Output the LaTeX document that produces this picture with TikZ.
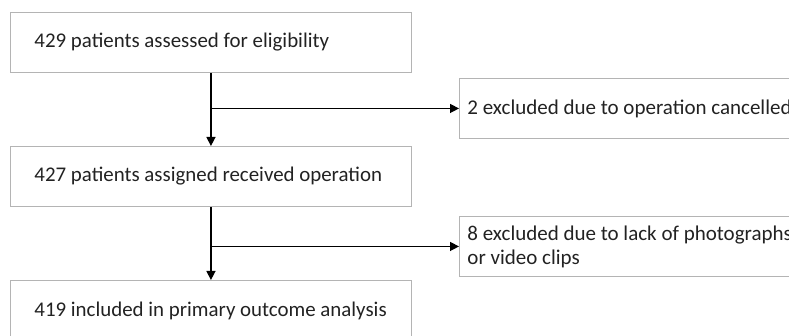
\documentclass[tikz,border=0pt]{standalone}
\usepackage{fontspec}
\setmainfont{Carlito}
\usetikzlibrary{arrows.meta,positioning}
\definecolor{boxgray}{HTML}{B4B4B4}
\definecolor{txt}{HTML}{222222}
\newcommand{\lefttext}[1]{\makebox[353pt][l]{#1}}
\newcommand{\sidetext}[1]{\makebox[404pt][l]{#1}}
\begin{document}
\begin{tikzpicture}[x=1pt,y=-1pt,
  mainbox/.style={draw=boxgray,line width=0.9pt,rectangle,anchor=north west,
    minimum width=401pt,minimum height=60pt,inner xsep=24pt,
    font=\fontsize{20.9pt}{24pt}\selectfont,text=txt},
  sidebox/.style={draw=boxgray,line width=0.9pt,rectangle,anchor=north west,
    minimum width=420pt,minimum height=60pt,inner xsep=8pt,
    align=left,font=\fontsize{21pt}{24pt}\selectfont,text=txt},
  conn/.style={draw=black,line width=1.4pt,-{Triangle[length=9pt,width=9pt]}}]
\useasboundingbox (0,0) rectangle (789,336);
\clip (0,0) rectangle (789,336);
\node[mainbox] (b1) at (10,12) {\lefttext{429 patients assessed for eligibility}};
\node[mainbox] (b2) at (10,146) {\lefttext{427 patients assigned received operation}};
\node[mainbox] (b3) at (10,280) {\lefttext{419 included in primary outcome analysis}};
\node[sidebox] (r1) at (459,78) {\sidetext{2 excluded due to operation cancelled}};
\node[sidebox] (r2) at (459,216) {\sidetext{8 excluded due to lack of photographs}\\\sidetext{or video clips}};
\draw[conn] (b1.south) -- (b2.north);
\draw[conn] (b2.south) -- (b3.north);
\draw[conn] (b1.south |- r1.west) -- (r1.west);
\draw[conn] (b2.south |- r2.west) -- (r2.west);
\end{tikzpicture}
\end{document}
